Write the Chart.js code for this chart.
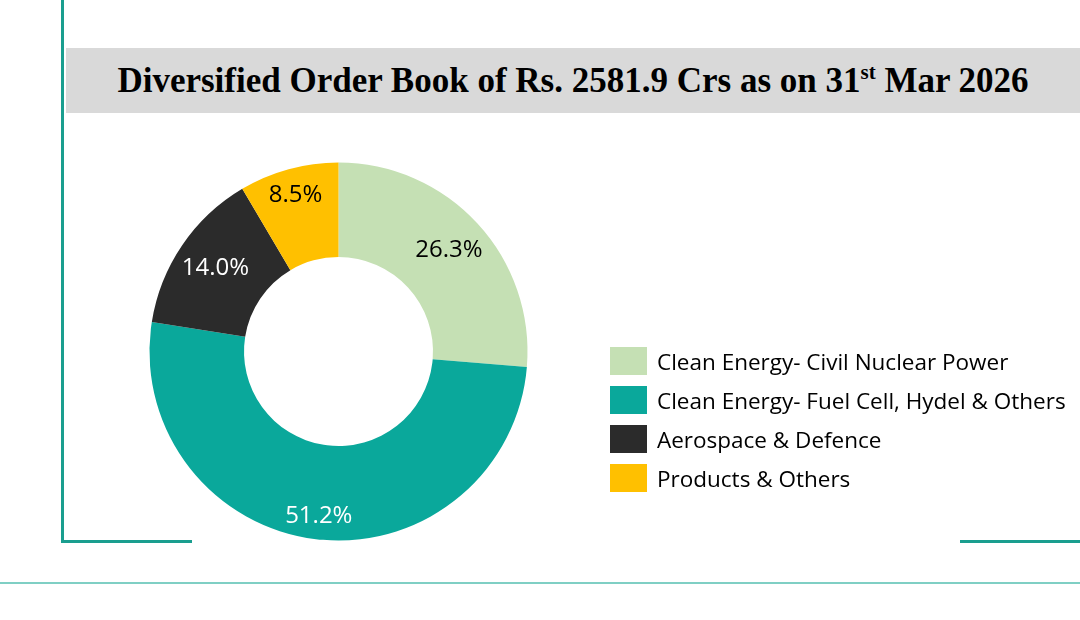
<!doctype html>
<html>

<head>
  <title>Order Book</title>
  <script src="https://cdn.jsdelivr.net/npm/chart.js@4.4.0/dist/chart.umd.min.js"></script>
  <style>
    html, body {
      margin: 0;
      padding: 0;
      background: #ffffff;
    }
    #page {
      position: relative;
      width: 1080px;
      height: 620px;
      overflow: hidden;
    }
    .frame-left {
      position: absolute; left: 61px; top: 0; width: 3px; height: 543px; background: #1a9e8f;
    }
    .frame-bottom-l {
      position: absolute; left: 61px; top: 540px; width: 131px; height: 3px; background: #1a9e8f;
    }
    .frame-bottom-r {
      position: absolute; left: 960px; top: 540px; width: 120px; height: 3px; background: #1a9e8f;
    }
    .rule {
      position: absolute; left: 0; top: 582px; width: 1080px; height: 2px; background: #7fcfc4;
    }
    #titlebar {
      position: absolute; left: 66px; top: 48px; width: 1014px; height: 65px;
      background: #d9d9d9;
      display: flex; align-items: center; justify-content: center;
      font-family: "Liberation Serif", serif;
      font-weight: bold;
      font-size: 35px;
      color: #000;
      white-space: nowrap;
    }
    #titlebar sup {
      font-size: 21px;
      vertical-align: 13px;
      line-height: 0;
    }
    #container {
      position: absolute; left: 0; top: 0; width: 1080px; height: 620px;
    }
    #legend {
      position: absolute; left: 610px; top: 347px;
      font-family: "Open Sans", sans-serif;
      font-size: 22.5px;
      color: #000;
    }
    #legend .item {
      display: flex; align-items: center; height: 28px; margin-bottom: 11px; white-space: nowrap;
    }
    #legend .box {
      width: 37px; height: 28px; margin-right: 10px; flex: none;
    }
  </style>
</head>

<body>
<div id="page">
  <div class="frame-left"></div>
  <div class="frame-bottom-l"></div>
  <div class="frame-bottom-r"></div>
  <div class="rule"></div>
  <div id="titlebar"><span>Diversified Order Book of Rs. 2581.9 Crs as on 31<sup>st</sup> Mar 2026</span></div>
  <div id="container">
    <canvas id="canvas" width="1080" height="620"></canvas>
  </div>
  <div id="legend"></div>
</div>
<script>
  var SEGMENTS = ['Clean Energy- Civil Nuclear Power', 'Clean Energy- Fuel Cell, Hydel & Others', 'Aerospace & Defence', 'Products & Others'];
  var SHARES = [26.3, 51.2, 14.0, 8.5];
  var COLORS = ['#c5e0b4', '#0aa89b', '#2b2b2b', '#ffc000'];
  var LABEL_COLORS = ['#000000', '#ffffff', '#ffffff', '#000000'];
  // where each % label sits across the ring (0 = inner edge, 1 = outer edge)
  var LABEL_POS = [0.59, 0.75, 0.575, 0.72];

  var sliceLabels = {
    id: 'sliceLabels',
    afterDatasetsDraw: function (chart) {
      var ctx = chart.ctx;
      var meta = chart.getDatasetMeta(0);
      ctx.save();
      ctx.font = '24px "Open Sans", sans-serif';
      ctx.textAlign = 'center';
      ctx.textBaseline = 'middle';
      meta.data.forEach(function (arc, i) {
        var p = arc.getProps(['x', 'y', 'startAngle', 'endAngle', 'innerRadius', 'outerRadius'], true);
        var mid = (p.startAngle + p.endAngle) / 2;
        var r = p.innerRadius + LABEL_POS[i] * (p.outerRadius - p.innerRadius);
        ctx.fillStyle = LABEL_COLORS[i];
        ctx.fillText(SHARES[i].toFixed(1) + '%', p.x + r * Math.cos(mid), p.y + r * Math.sin(mid));
      });
      ctx.restore();
    }
  };

  window.onload = function () {
    var ctx = document.getElementById('canvas').getContext('2d');
    window.myChart = new Chart(ctx, {
      type: 'doughnut',
      data: {
        labels: SEGMENTS,
        datasets: [{
          data: SHARES,
          backgroundColor: COLORS,
          borderWidth: 0,
          hoverOffset: 0
        }]
      },
      options: {
        responsive: false,
        animation: false,
        cutout: '50%',
        layout: {
          padding: { left: 149.5, top: 162.5, right: 552.5, bottom: 79.5 }
        },
        plugins: {
          legend: { display: false },
          title: { display: false },
          tooltip: { enabled: false }
        }
      },
      plugins: [sliceLabels]
    });

    var legend = document.getElementById('legend');
    SEGMENTS.forEach(function (name, i) {
      var item = document.createElement('div');
      item.className = 'item';
      var box = document.createElement('span');
      box.className = 'box';
      box.style.background = COLORS[i];
      var text = document.createElement('span');
      text.textContent = name;
      item.appendChild(box);
      item.appendChild(text);
      legend.appendChild(item);
    });
  };
</script>
</body>

</html>
